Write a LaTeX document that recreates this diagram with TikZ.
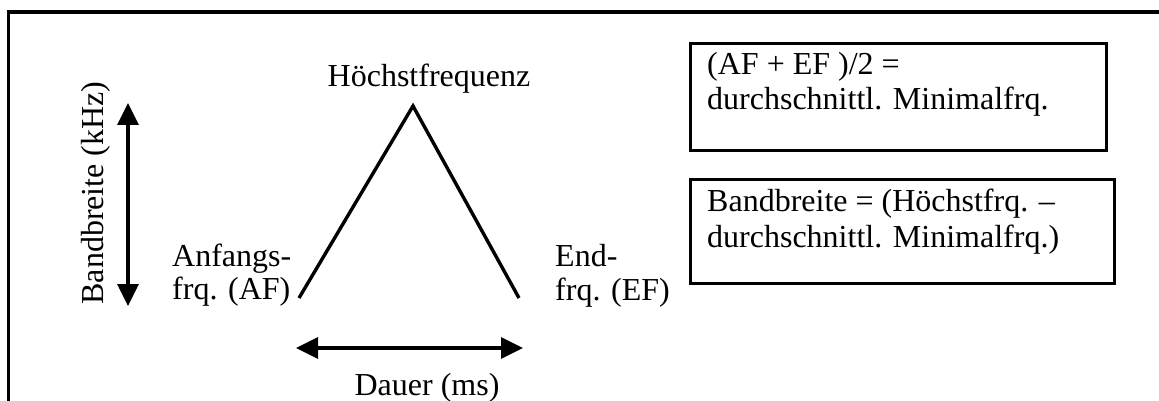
\documentclass[tikz,border=0pt]{standalone}
\usepackage{fontspec}
\setmainfont{Liberation Serif}
\usetikzlibrary{arrows.meta}
\begin{document}
\begin{tikzpicture}[x=1pt,y=-1pt,
  lbl/.style={inner sep=0pt,font=\fontsize{32}{35}\selectfont},
  frame/.style={line width=3.4pt},
  boxline/.style={line width=3.4pt},
  curve/.style={line width=3.4pt},
  dbl/.style={line width=3.4pt,{Triangle[width=21pt,length=22pt]}-{Triangle[width=21pt,length=22pt]}}]
\useasboundingbox (0,0) rectangle (1159,401);
% outer frame
\coordinate (fbl) at (8.5,401);
\coordinate (ftl) at (8.5,12);
\coordinate (ftr) at (1159,12);
\draw[frame] (fbl) -- (ftl) -- (ftr);
% triangle
\coordinate (af) at (299,298);
\coordinate (top) at (413,106);
\coordinate (ef) at (519,298);
\draw[curve] (af) -- (top) -- (ef);
% arrows
\coordinate (vt) at (128,103);
\coordinate (vb) at (128,306);
\draw[dbl] (vt) -- (vb);
\coordinate (hl) at (296,348);
\coordinate (hr) at (523,348);
\draw[dbl] (hl) -- (hr);
% labels
\node[lbl,anchor=base] (hf) at (429,87) {Höchstfrequenz};
\node[lbl,anchor=base] (dauer) at (427,395) {Dauer (ms)};
\node[lbl,anchor=base,rotate=90] (bb) at (103,193) {Bandbreite (kHz)};
\node[lbl,anchor=base west] (anf1) at (172,266) {Anfangs-};
\node[lbl,anchor=base west] (anf2) at (172,299) {frq. (AF)};
\node[lbl,anchor=base west] (end1) at (555,266) {End-};
\node[lbl,anchor=base west] (end2) at (555,300) {frq. (EF)};
% boxes
\node[draw,boxline,inner sep=0pt,minimum width=416pt,minimum height=107pt,anchor=north west] (box1) at (689,42) {};
\node[lbl,anchor=base west] (b1a) at (707,75) {(AF + EF )/2 =};
\node[lbl,anchor=base west] (b1b) at (707,110) {durchschnittl. Minimalfrq.};
\node[draw,boxline,inner sep=0pt,minimum width=424pt,minimum height=104pt,anchor=north west] (box2) at (689,178) {};
\node[lbl,anchor=base west] (b2a) at (707,211) {Bandbreite = (Höchstfrq. –};
\node[lbl,anchor=base west] (b2b) at (707,247) {durchschnittl. Minimalfrq.)};
\end{tikzpicture}
\end{document}
